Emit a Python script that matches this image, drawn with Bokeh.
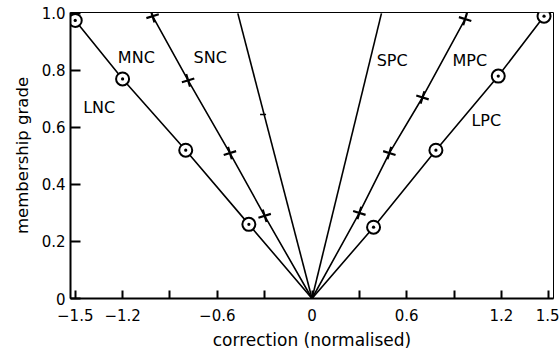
from bokeh.plotting import figure
from bokeh.models import Range1d, FixedTicker, ColumnDataSource
from bokeh.core.properties import value
from bokeh.embed import file_html
from bokeh.resources import INLINE

# Fuzzy membership functions for the normalised correction
lnc_x = [0.0, -0.40, -0.80, -1.20, -1.50]
lnc_y = [0.0, 0.26, 0.52, 0.77, 0.975]
mnc_x = [0.0, -0.30, -0.52, -0.785, -1.01]
mnc_y = [0.0, 0.29, 0.51, 0.765, 0.99]
snc_x = [0.0, -0.47]
snc_y = [0.0, 1.0]
snc_mark_x = [-0.31]
snc_mark_y = [0.645]
spc_x = [0.0, 0.44]
spc_y = [0.0, 1.0]
mpc_x = [0.0, 0.30, 0.49, 0.70, 0.97]
mpc_y = [0.0, 0.30, 0.51, 0.705, 0.98]
lpc_x = [0.0, 0.39, 0.785, 1.18, 1.47]
lpc_y = [0.0, 0.25, 0.52, 0.78, 0.99]

set_names = ["LNC", "MNC", "SNC", "SPC", "MPC", "LPC"]
name_x = [-1.45, -1.23, -0.75, 0.41, 0.89, 1.01]
name_y = [0.67, 0.845, 0.845, 0.835, 0.835, 0.625]

x_ticks = [-1.5, -1.2, -0.9, -0.6, -0.3, 0.0, 0.3, 0.6, 0.9, 1.2, 1.5]
x_tick_labels = {-1.5: "\u22121.5", -1.2: "\u22121.2", -0.9: "", -0.6: "\u22120.6",
                 -0.3: "", 0.0: "0", 0.3: "", 0.6: "0.6", 0.9: "", 1.2: "1.2", 1.5: "1.5"}
y_ticks = [0.0, 0.2, 0.4, 0.6, 0.8, 1.0]
y_tick_labels = {0.0: "0", 0.2: "0.2", 0.4: "0.4", 0.6: "0.6", 0.8: "0.8", 1.0: "1.0"}

FONT = "DejaVu Sans"

p = figure(width=559, height=352, output_backend="svg", toolbar_location=None,
           x_range=Range1d(-1.53, 1.53), y_range=Range1d(0, 1.003),
           min_border_left=70, min_border_right=6, min_border_top=12, min_border_bottom=54)
p.xgrid.visible = False
p.ygrid.visible = False
p.background_fill_color = "white"
p.border_fill_color = "white"
p.outline_line_color = "black"
p.outline_line_width = 1

for ax in (p.xaxis[0], p.yaxis[0]):
    ax.axis_line_width = 2
    ax.axis_line_color = "black"
    ax.major_tick_line_width = 2
    ax.major_tick_line_color = "black"
    ax.minor_tick_line_color = None
    ax.major_tick_out = 0
    ax.major_label_text_font = FONT
    ax.major_label_text_font_size = "15px"
    ax.major_label_text_color = "black"
    ax.axis_label_text_font = FONT
    ax.axis_label_text_font_style = "normal"
    ax.axis_label_text_color = "black"

p.xaxis.ticker = FixedTicker(ticks=x_ticks)
p.xaxis.major_label_overrides = x_tick_labels
p.xaxis.major_tick_in = 8
p.xaxis.major_label_standoff = 10
p.xaxis.axis_label = "correction (normalised)"
p.xaxis.axis_label_text_font_size = "17px"
p.xaxis.axis_label_standoff = 6

p.yaxis.ticker = FixedTicker(ticks=y_ticks)
p.yaxis.major_label_overrides = y_tick_labels
p.yaxis.major_tick_in = 10
p.yaxis.major_label_standoff = 5
p.yaxis.axis_label = "membership grade"
p.yaxis.axis_label_text_font_size = "16.5px"
p.yaxis.axis_label_standoff = 7

lw = 1.6
for xs, ys in [(lnc_x, lnc_y), (mnc_x, mnc_y), (snc_x, snc_y),
               (spc_x, spc_y), (mpc_x, mpc_y), (lpc_x, lpc_y)]:
    p.line(xs, ys, line_color="black", line_width=lw)

# circle-dot markers on the large sets
for xs, ys in [(lnc_x[1:], lnc_y[1:]), (lpc_x[1:], lpc_y[1:])]:
    p.scatter(xs, ys, marker="circle_dot", size=13, line_color="black",
              line_width=2, fill_color="white")

# cross markers on the medium sets
p.scatter(mnc_x[1:], mnc_y[1:], marker="cross", size=13, angle=0.3,
          line_color="black", line_width=2.2)
p.scatter(mpc_x[1:], mpc_y[1:], marker="cross", size=13, angle=-0.3,
          line_color="black", line_width=2.2)

# small tick on the small-negative set
p.scatter(snc_mark_x, snc_mark_y, marker="dash", size=6, line_color="black", line_width=1.5)

src = ColumnDataSource(dict(x=name_x, y=name_y, t=set_names))
p.text(x="x", y="y", text="t", source=src, text_font=value(FONT),
       text_font_size="16px", text_color="black", text_align="left",
       text_baseline="middle")

open("out.html", "w").write(file_html(p, INLINE))
